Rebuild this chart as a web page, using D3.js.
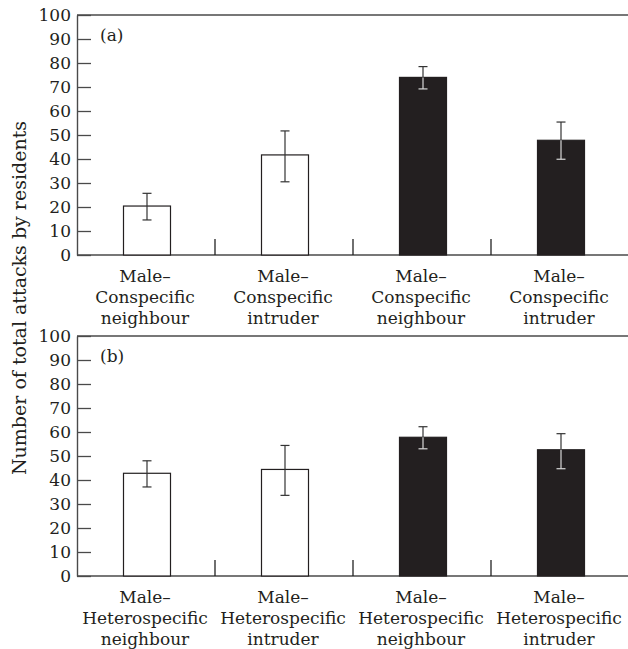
<!DOCTYPE html>
<html>
<head>
<meta charset="utf-8">
<script src="https://cdn.jsdelivr.net/npm/d3@7"></script>
<style>
  body { margin: 0; background: #fff; }
  text { font-family: "DejaVu Serif", serif; fill: #231f20; }
</style>
</head>
<body>
<div id="chart"></div>
<script>
// values
const categories = ["neighbour", "intruder", "neighbour", "intruder"];
const speciesA = "Conspecific";
const speciesB = "Heterospecific";
const filled = [false, false, true, true];

const meansA = [20.4, 41.7, 74.0, 47.8];
const upperA = [25.7, 51.7, 78.5, 55.4];
const lowerA = [14.6, 30.5, 69.2, 39.9];

const meansB = [42.8, 44.4, 57.8, 52.6];
const upperB = [48.0, 54.4, 62.2, 59.3];
const lowerB = [37.1, 33.6, 53.0, 44.7];

const yTicks = [0, 10, 20, 30, 40, 50, 60, 70, 80, 90, 100];

const width = 628, height = 649;
const left = 77, right = 629;
const lineCol = "#4a4a4a";

const svg = d3.select("#chart")
    .append("svg")
    .attr("width", width)
    .attr("height", height);

const x = d3.scaleBand()
    .domain(d3.range(categories.length))
    .range([left + 1, right + 1])
    .paddingInner(0)
    .paddingOuter(0);

const barW = 47;

function drawPanel(top, bottom, tag, species, means, upper, lower) {
    const y = d3.scaleLinear().domain([0, 100]).range([bottom, top]);
    const g = svg.append("g");

    // frame: top line and baseline
    g.append("line")
        .attr("x1", left).attr("x2", width)
        .attr("y1", y(100)).attr("y2", y(100))
        .attr("stroke", lineCol).attr("stroke-width", 1.4);
    g.append("line")
        .attr("x1", left).attr("x2", width)
        .attr("y1", y(0)).attr("y2", y(0))
        .attr("stroke", lineCol).attr("stroke-width", 1.4);

    // y axis with inward ticks
    const yAxis = d3.axisLeft(y)
        .tickValues(yTicks)
        .tickSizeInner(-14)
        .tickSizeOuter(0)
        .tickPadding(6);
    const ga = g.append("g")
        .attr("transform", `translate(${left},0)`)
        .call(yAxis);
    ga.select(".domain").attr("stroke", lineCol).attr("stroke-width", 1.4);
    ga.selectAll(".tick line").attr("stroke", lineCol).attr("stroke-width", 1.3);
    ga.selectAll(".tick text")
        .attr("font-family", "DejaVu Serif")
        .attr("font-size", 17)
        .attr("fill", "#231f20");

    // separators between categories
    g.selectAll(".sep")
        .data(d3.range(1, categories.length))
        .enter().append("line")
        .attr("class", "sep")
        .attr("x1", d => x(d) - 1).attr("x2", d => x(d) - 1)
        .attr("y1", y(0)).attr("y2", y(0) - 16)
        .attr("stroke", "#222").attr("stroke-width", 1.3);

    // bars
    g.selectAll(".bar")
        .data(means)
        .enter().append("rect")
        .attr("class", "bar")
        .attr("x", (d, i) => x(i) + x.bandwidth() / 2 - barW / 2)
        .attr("y", d => y(d))
        .attr("width", barW)
        .attr("height", d => y(0) - y(d))
        .attr("fill", (d, i) => filled[i] ? "#231f20" : "#fff")
        .attr("stroke", "#231f20")
        .attr("stroke-width", 1.2);

    // error bars
    const cx = i => x(i) + x.bandwidth() / 2;
    const cap = 4.5;
    means.forEach((m, i) => {
        const dark = "#333";
        const inside = filled[i] ? "#d8d8d8" : dark;
        g.append("line")
            .attr("x1", cx(i)).attr("x2", cx(i))
            .attr("y1", y(upper[i])).attr("y2", y(m))
            .attr("stroke", dark).attr("stroke-width", 1.2);
        g.append("line")
            .attr("x1", cx(i)).attr("x2", cx(i))
            .attr("y1", y(m)).attr("y2", y(lower[i]))
            .attr("stroke", inside).attr("stroke-width", 1.2);
        g.append("line")
            .attr("x1", cx(i) - cap).attr("x2", cx(i) + cap)
            .attr("y1", y(upper[i])).attr("y2", y(upper[i]))
            .attr("stroke", dark).attr("stroke-width", 1.2);
        g.append("line")
            .attr("x1", cx(i) - cap).attr("x2", cx(i) + cap)
            .attr("y1", y(lower[i])).attr("y2", y(lower[i]))
            .attr("stroke", inside).attr("stroke-width", 1.2);
    });

    // panel tag
    g.append("text")
        .attr("x", 100).attr("y", y(100) + 26)
        .attr("font-size", 17)
        .text(tag);

    // category labels
    const lab = g.selectAll(".xlab")
        .data(categories)
        .enter().append("text")
        .attr("class", "xlab")
        .attr("text-anchor", "middle")
        .attr("font-size", 17)
        .attr("transform", (d, i) => `translate(${x(i) + x.bandwidth() / 2 - 2},${y(0) + 27})`);
    lab.append("tspan").attr("x", 0).attr("y", 0).text("Male–");
    lab.append("tspan").attr("x", 0).attr("y", 21).text(species);
    lab.append("tspan").attr("x", 0).attr("y", 42).text(d => d);
}

drawPanel(15, 255, "(a)", speciesA, meansA, upperA, lowerA);
drawPanel(336, 576, "(b)", speciesB, meansB, upperB, lowerB);

// shared y axis title
svg.append("text")
    .attr("transform", "translate(26,298) rotate(-90)")
    .attr("text-anchor", "middle")
    .attr("font-size", 19)
    .text("Number of total attacks by residents");
</script>
</body>
</html>
